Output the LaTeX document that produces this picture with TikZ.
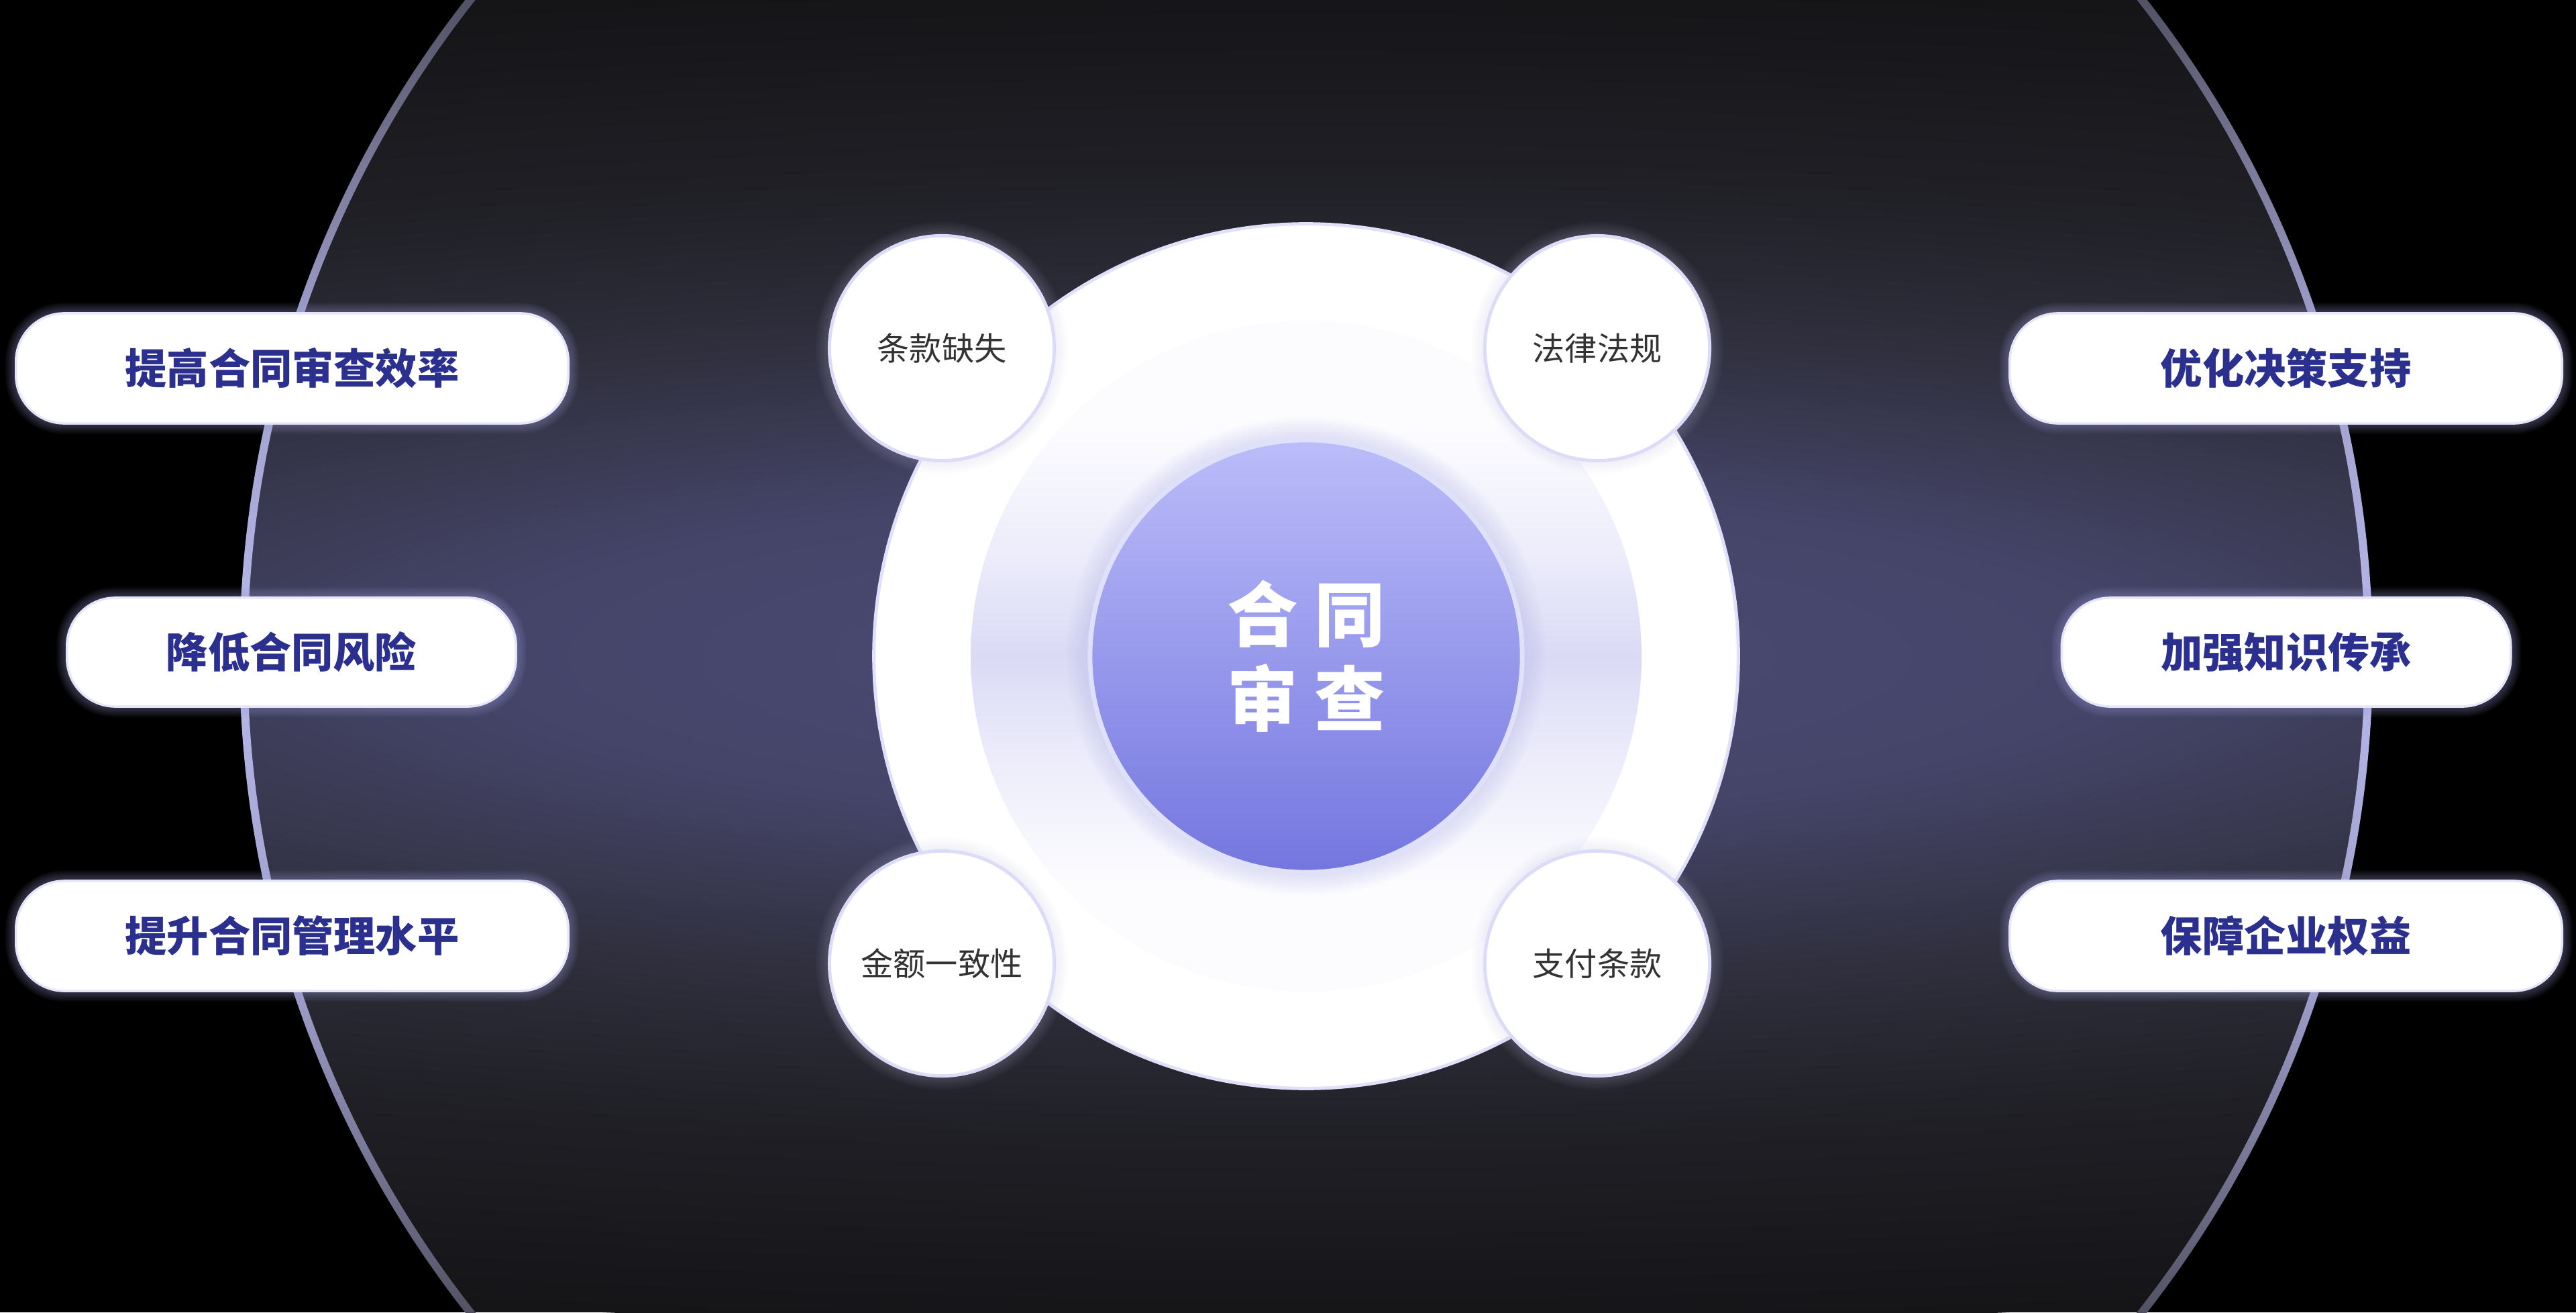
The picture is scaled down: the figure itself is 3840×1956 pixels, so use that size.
\documentclass[tikz,border=0pt]{standalone}
\usepackage{fontspec}
\newfontfamily\cjk{Noto Sans CJK SC}
\definecolor{navy}{HTML}{2B2F8E}
\definecolor{txtgray}{HTML}{333333}
\definecolor{lav}{HTML}{DCDCF8}
\definecolor{lavdisc}{HTML}{E0E0FA}
\definecolor{lavcore}{HTML}{DFE0FA}
\definecolor{pillline}{HTML}{E6E6FA}
\definecolor{purtop}{HTML}{BBBCF9}
\definecolor{purbot}{HTML}{7476DF}
\definecolor{pillglow}{HTML}{A8A8E8}
\definecolor{coreglow}{HTML}{B8BAF0}
\definecolor{satglow}{HTML}{C8C8EE}
\definecolor{bgA}{HTML}{4B4B74}
\definecolor{bgB}{HTML}{45456A}
\definecolor{bgC}{HTML}{30303F}
\definecolor{bgD}{HTML}{1F1F25}
\definecolor{bgE}{HTML}{151518}
\definecolor{rimA}{HTML}{B8B8EA}
\definecolor{rimB}{HTML}{9C9CC8}
\definecolor{rimC}{HTML}{4C4C5C}
\definecolor{rimD}{HTML}{26262C}
\definecolor{ringW}{HTML}{FCFCFF}
\definecolor{ringL}{HTML}{EDEDFB}
\definecolor{ringM}{HTML}{DADAF6}
\pgfdeclareradialshading{bgglow}{\pgfpoint{0bp}{0bp}}{color(0bp)=(bgA); color(6bp)=(bgB); color(12bp)=(bgC); color(18bp)=(bgD); color(25bp)=(bgE); color(50bp)=(bgE)}
\pgfdeclareverticalshading{rimshade}{100bp}{color(0bp)=(rimD); color(25bp)=(rimD); color(34bp)=(rimC); color(42bp)=(rimB); color(50bp)=(rimA); color(58bp)=(rimB); color(66bp)=(rimC); color(75bp)=(rimD); color(100bp)=(rimD)}
\pgfdeclareverticalshading{ringshade}{100bp}{color(0bp)=(ringW); color(33bp)=(ringW); color(42bp)=(ringL); color(50bp)=(ringM); color(58bp)=(ringL); color(67bp)=(ringW); color(100bp)=(ringW)}
\pgfdeclarelayer{back}
\pgfdeclarelayer{glowA}
\pgfdeclarelayer{mid}
\pgfdeclarelayer{glowB}
\pgfsetlayers{back,glowA,mid,glowB,main}
\begin{document}
\begin{tikzpicture}[x=0.01cm,y=0.01cm,
  pill/.style={fill=white, draw=pillline, line width=1pt, rounded corners=0.72cm, inner sep=0pt,
    font=\cjk\bfseries\fontsize{17.7pt}{20pt}\selectfont, text=navy},
  wide/.style={minimum width=8.23cm, minimum height=1.64cm},
  narrow/.style={minimum width=6.69cm, minimum height=1.62cm},
  sat/.style={circle, fill=white, draw=lav, line width=1.4pt, minimum size=3.35cm, inner sep=0pt,
    font=\cjk\fontsize{13.7pt}{16pt}\selectfont, text=txtgray},
  core/.style={circle, minimum size=6.44cm, inner sep=0pt, top color=purtop, bottom color=purbot,
    draw=lavcore, line width=2pt, text=white, align=center,
    font=\cjk\bfseries\fontsize{30pt}{35.6pt}\selectfont}]
\useasboundingbox (0,0) rectangle (3840,1956);
\coordinate (C) at (1947,978);

% foreground nodes
\node[pill,wide]   (l1) at (435.5,1407) {提高合同审查效率};
\node[pill,narrow] (l2) at (434.5,984)  {降低合同风险};
\node[pill,wide]   (l3) at (435.5,561)  {提升合同管理水平};
\node[pill,wide]   (r1) at (3407.5,1407) {优化决策支持};
\node[pill,narrow] (r2) at (3408,984)   {加强知识传承};
\node[pill,wide]   (r3) at (3407.5,561) {保障企业权益};
\node[core] (core) at (C) {合\kern7pt同\\审\kern7pt查};
\node[sat] (s1) at (1404,1437) {条款缺失};
\node[sat] (s2) at (2381,1437) {法律法规};
\node[sat] (s3) at (1404,520)  {金额一致性};
\node[sat] (s4) at (2381,520)  {支付条款};

\begin{pgfonlayer}{back}
  \fill[black] (0,0) rectangle (3840,1956);
  \begin{scope}
    \clip (C) circle (1584);
    \fill[bgE] (0,0) rectangle (3840,1956);
    \shade[shading=bgglow] (C) ellipse [x radius=5000, y radius=1000];
  \end{scope}
  \shade[shading=rimshade, even odd rule] (C) circle (1590) (C) circle (1578);
\end{pgfonlayer}

\begin{pgfonlayer}{glowA}
  \foreach \n in {l1,l2,l3,r1,r2,r3}{
    \foreach \k in {1,...,8}{
      \draw[pillglow, opacity=0.045, line width=\k*1pt, rounded corners=0.72cm]
        (\n.south west) rectangle (\n.north east);
    }
  }
\end{pgfonlayer}

\begin{pgfonlayer}{mid}
  \node[circle, fill=white, draw=lavdisc, line width=1.4pt, minimum size=12.88cm, inner sep=0pt] (disc) at (C) {};
  \shade[shading=ringshade] (disc.center) circle (500);
\end{pgfonlayer}

\begin{pgfonlayer}{glowB}
  \foreach \k in {1,...,10}{
    \draw[coreglow, opacity=0.045, line width=\k*2pt] (core.center) circle (322);
  }
  \foreach \n in {s1,s2,s3,s4}{
    \foreach \k in {1,...,8}{
      \draw[satglow, opacity=0.03, line width=\k*1.5pt] (\n.center) circle (167);
    }
  }
\end{pgfonlayer}
\end{tikzpicture}
\end{document}
